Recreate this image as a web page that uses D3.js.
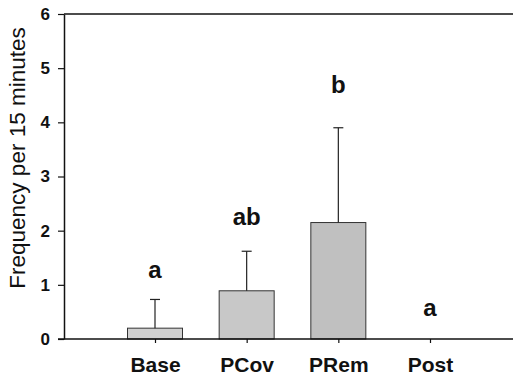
<!DOCTYPE html>
<html>
<head>
<meta charset="utf-8">
<script src="https://cdn.jsdelivr.net/npm/d3@7"></script>
<style>
  body { margin: 0; background: #fff; }
  svg { display: block; font-family: "Liberation Sans", Arial, sans-serif; }
</style>
</head>
<body>
<svg id="chart" width="513" height="379"></svg>
<script>
const categories = ["Base", "PCov", "PRem", "Post"];
const means = [0.2, 0.89, 2.15, 0];
const errorTops = [0.73, 1.62, 3.9, 0];
const groupLetters = ["a", "ab", "b", "a"];
const letterLevels = [1.13, 2.1, 4.54, 0.42];
const yTicks = [0, 1, 2, 3, 4, 5, 6];

const barColors = ["#d0d0d0", "#c8c8c8", "#c0c0c0", "#c8c8c8"];

const svg = d3.select("#chart");
const plotLeft = 64, plotRight = 513, plotTop = 14, plotBottom = 339;

const y = d3.scaleLinear().domain([0, 6]).range([plotBottom, plotTop]);
const x = d3.scalePoint().domain(categories).range([155, 430]);
const barW = 55;

// top frame line
svg.append("line")
    .attr("x1", plotLeft).attr("x2", plotRight)
    .attr("y1", y(6)).attr("y2", y(6))
    .attr("stroke", "#111").attr("stroke-width", 1.5);

// y axis
const yAxis = svg.append("g")
    .attr("transform", `translate(${plotLeft},0)`)
    .call(d3.axisLeft(y).tickValues(yTicks).tickFormat(d3.format("d"))
        .tickSize(6).tickSizeOuter(0).tickPadding(8));
yAxis.select(".domain").attr("stroke", "#111").attr("stroke-width", 1.5);
yAxis.selectAll(".tick line").attr("stroke", "#111").attr("stroke-width", 1.2);
yAxis.selectAll(".tick text")
    .attr("fill", "#111")
    .style("font-size", "17px")
    .style("font-weight", "bold");

// bars
svg.selectAll(".bar")
    .data(categories)
    .enter().append("rect")
    .attr("class", "bar")
    .attr("x", d => x(d) - barW / 2)
    .attr("y", (d, i) => y(means[i]))
    .attr("width", barW)
    .attr("height", (d, i) => y(0) - y(means[i]))
    .attr("fill", (d, i) => barColors[i])
    .attr("stroke", "#333")
    .attr("stroke-width", 1)
    .style("display", (d, i) => means[i] > 0 ? null : "none");

// error bars (upper only)
const err = svg.selectAll(".err")
    .data(categories.filter((d, i) => errorTops[i] > means[i]))
    .enter().append("g")
    .attr("class", "err");
err.append("line")
    .attr("x1", d => x(d)).attr("x2", d => x(d))
    .attr("y1", d => y(means[categories.indexOf(d)]))
    .attr("y2", d => y(errorTops[categories.indexOf(d)]))
    .attr("stroke", "#222").attr("stroke-width", 1.2);
err.append("line")
    .attr("x1", d => x(d) - 5).attr("x2", d => x(d) + 5)
    .attr("y1", d => y(errorTops[categories.indexOf(d)]))
    .attr("y2", d => y(errorTops[categories.indexOf(d)]))
    .attr("stroke", "#222").attr("stroke-width", 1.2);

// x axis
const xAxis = svg.append("g")
    .attr("transform", `translate(0,${plotBottom})`)
    .call(d3.axisBottom(x).tickSize(4).tickSizeOuter(0).tickPadding(14));
xAxis.select(".domain").remove();
xAxis.append("line")
    .attr("x1", plotLeft - 6).attr("x2", plotRight)
    .attr("stroke", "#111").attr("stroke-width", 1.5);
xAxis.selectAll(".tick line").attr("stroke", "#111").attr("stroke-width", 1.2);
xAxis.selectAll(".tick text")
    .attr("fill", "#111")
    .style("font-size", "21px")
    .style("font-weight", "bold");

// significance letters
svg.selectAll(".letter")
    .data(categories)
    .enter().append("text")
    .attr("class", "letter")
    .attr("x", d => x(d))
    .attr("y", (d, i) => y(letterLevels[i]))
    .attr("text-anchor", "middle")
    .attr("fill", "#111")
    .style("font-size", "24px")
    .style("font-weight", "bold")
    .text((d, i) => groupLetters[i]);

// y axis title
svg.append("text")
    .attr("transform", "translate(25,158) rotate(-90)")
    .attr("text-anchor", "middle")
    .attr("fill", "#111")
    .style("font-size", "22.5px")
    .text("Frequency per 15 minutes");
</script>
</body>
</html>
